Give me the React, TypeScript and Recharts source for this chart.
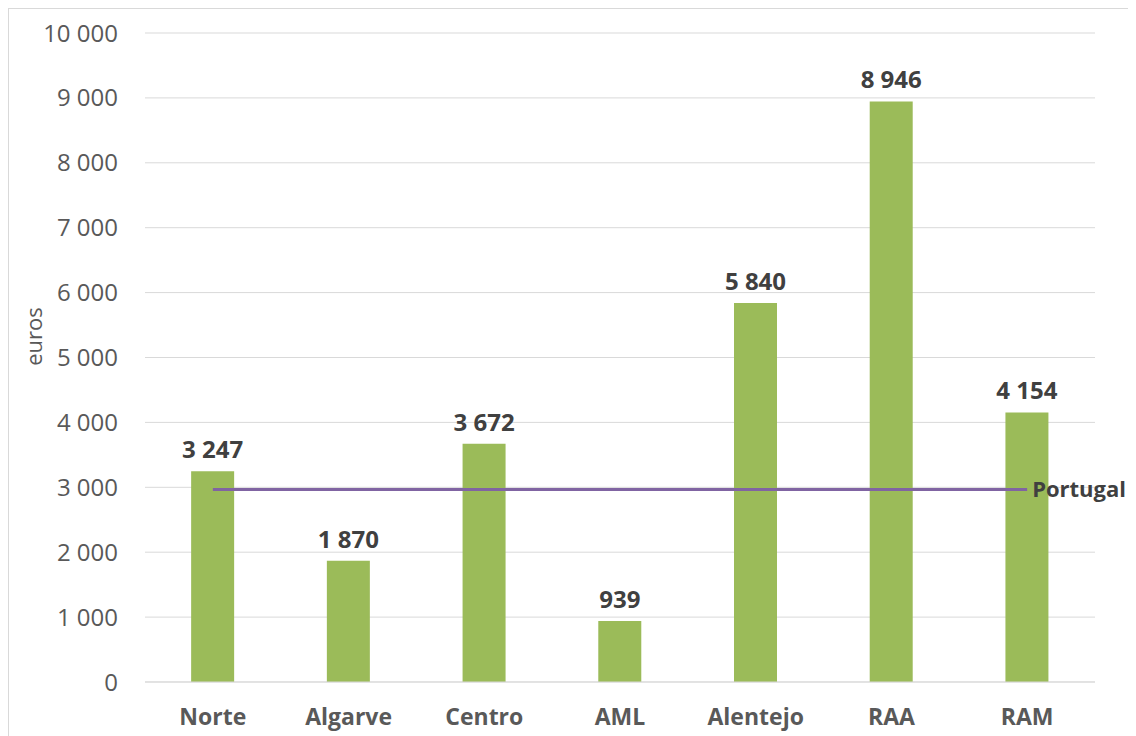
import { ComposedChart, Bar, Line, XAxis, YAxis, CartesianGrid, LabelList } from 'recharts';

const regions = ['Norte', 'Algarve', 'Centro', 'AML', 'Alentejo', 'RAA', 'RAM'];
const values = [3247, 1870, 3672, 939, 5840, 8946, 4154];
const portugal = [2966, 2966, 2966, 2966, 2966, 2966, 2966];
const yTicks = [0, 1000, 2000, 3000, 4000, 5000, 6000, 7000, 8000, 9000, 10000];

const data = regions.map((r, i) => ({ name: r, value: values[i], portugal: portugal[i] }));

const FONT = '"Open Sans", sans-serif';
const fmt = (v: number) => String(v).replace(/\B(?=(\d{3})+(?!\d))/g, ' ');

const PortugalLabel = (props: any) => {
  const { x, y, index } = props;
  if (index !== regions.length - 1) return null;
  return (
    <text x={x + 5} y={y} dy="0.35em" fontSize={22} fontWeight="bold" fill="#404040" fontFamily={FONT}>
      Portugal
    </text>
  );
};

const EurosLabel = (props: any) => {
  const { viewBox } = props;
  const cx = viewBox.x + 24;
  const cy = viewBox.y + viewBox.height / 2 - 21;
  return (
    <text
      x={cx}
      y={cy}
      transform={`rotate(-90, ${cx}, ${cy})`}
      textAnchor="middle"
      dominantBaseline="central"
      fontSize={22}
      fill="#595959"
      fontFamily={FONT}
    >
      euros
    </text>
  );
};

export default function App() {
  return (
    <div style={{ width: 1124, height: 740, border: '1px solid #d9d9d9', boxSizing: 'border-box' }}>
      <ComposedChart
        width={1122}
        height={738}
        data={data}
        margin={{ top: 24, right: 36, left: 0, bottom: 15 }}
        barCategoryGap="34%"
      >
        <CartesianGrid vertical={false} stroke="#d9d9d9" />
        <XAxis
          dataKey="name"
          axisLine={{ stroke: '#d9d9d9' }}
          tickLine={false}
          tickMargin={21}
          height={50}
          tick={{ fontSize: 23, fontWeight: 'bold', fill: '#595959', fontFamily: FONT }}
        />
        <YAxis
          width={136}
          domain={[0, 10000]}
          ticks={yTicks}
          axisLine={false}
          tickLine={false}
          tickMargin={21}
          tickFormatter={fmt}
          tick={{ fontSize: 24, fill: '#595959', fontFamily: FONT }}
          label={<EurosLabel />}
        />
        <Bar dataKey="value" fill="#9BBB59" isAnimationActive={false}>
          <LabelList
            dataKey="value"
            position="top"
            offset={13}
            formatter={(v: any) => fmt(Number(v))}
            style={{ fontSize: 24, fontWeight: 'bold', fill: '#404040', fontFamily: FONT }}
          />
        </Bar>
        <Line
          dataKey="portugal"
          stroke="#8064A2"
          strokeWidth={3}
          dot={false}
          activeDot={false}
          isAnimationActive={false}
        >
          <LabelList dataKey="portugal" content={PortugalLabel} />
        </Line>
      </ComposedChart>
    </div>
  );
}
